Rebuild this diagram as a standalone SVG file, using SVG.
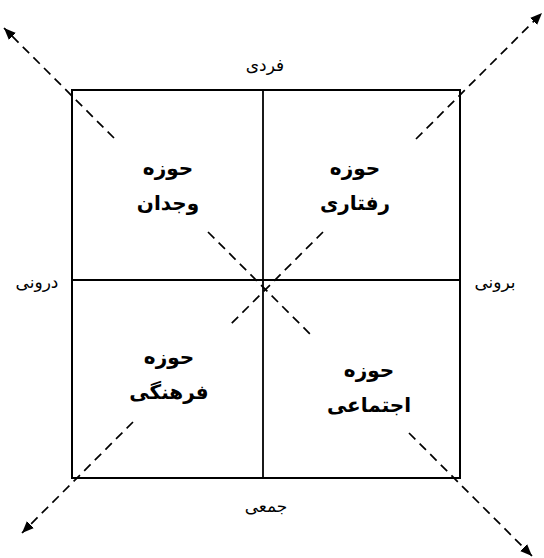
<svg xmlns="http://www.w3.org/2000/svg" width="544" height="558" viewBox="0 0 544 558">
<defs>
<marker id="ah" viewBox="0 0 12 10" refX="12" refY="5" markerWidth="12" markerHeight="10" markerUnits="userSpaceOnUse" orient="auto">
<path d="M0,0 L12,5 L0,10 Z" fill="#000"/>
</marker>
<style>
.box{fill:none;stroke:#000;stroke-width:2}
.ln{stroke:#000;stroke-width:1.8}
.dash{stroke:#000;stroke-width:1.7;stroke-dasharray:9,6;fill:none}
.lbl{font-family:"Liberation Serif","DejaVu Sans",serif;font-size:17px;fill:#000;text-anchor:middle}
.q{font-family:"Liberation Serif","DejaVu Sans",serif;font-size:20px;font-weight:bold;fill:#000;text-anchor:middle}
</style>
</defs>
<rect width="544" height="558" fill="#fff"/>
<g id="frame">
<rect class="box" x="72" y="90" width="388" height="388"/>
<line class="ln" x1="263" y1="90" x2="263" y2="478"/>
<line class="ln" x1="72" y1="280" x2="460" y2="280"/>
</g>
<g id="connectors">
<line class="dash" x1="114" y1="138" x2="4" y2="28" marker-end="url(#ah)"/>
<line class="dash" x1="416" y1="139" x2="542" y2="13" marker-end="url(#ah)"/>
<line class="dash" x1="133" y1="422" x2="22" y2="533" marker-end="url(#ah)"/>
<line class="dash" x1="409" y1="433" x2="532" y2="556" marker-end="url(#ah)"/>
<line class="dash" x1="208" y1="232" x2="310" y2="334"/>
<line class="dash" x1="323" y1="232" x2="229" y2="326"/>
</g>
<g id="axis-top"><text class="lbl" x="265" y="71" direction="rtl">فردی</text></g>
<g id="axis-bottom"><text class="lbl" x="266" y="512" direction="rtl">جمعی</text></g>
<g id="axis-left"><text class="lbl" x="37" y="288" direction="rtl">درونی</text></g>
<g id="axis-right"><text class="lbl" x="495" y="288" direction="rtl">برونی</text></g>
<g id="q-vojdan">
<text class="q" x="168" y="175" direction="rtl">حوزه</text>
<text class="q" x="168" y="210" direction="rtl">وجدان</text>
</g>
<g id="q-raftari">
<text class="q" x="355" y="175" direction="rtl">حوزه</text>
<text class="q" x="355" y="210" direction="rtl">رفتاری</text>
</g>
<g id="q-farhangi">
<text class="q" x="169" y="364" direction="rtl">حوزه</text>
<text class="q" x="169" y="399" direction="rtl">فرهنگی</text>
</g>
<g id="q-ejtemai">
<text class="q" x="369" y="377" direction="rtl">حوزه</text>
<text class="q" x="369" y="412" direction="rtl">اجتماعی</text>
</g>
</svg>
